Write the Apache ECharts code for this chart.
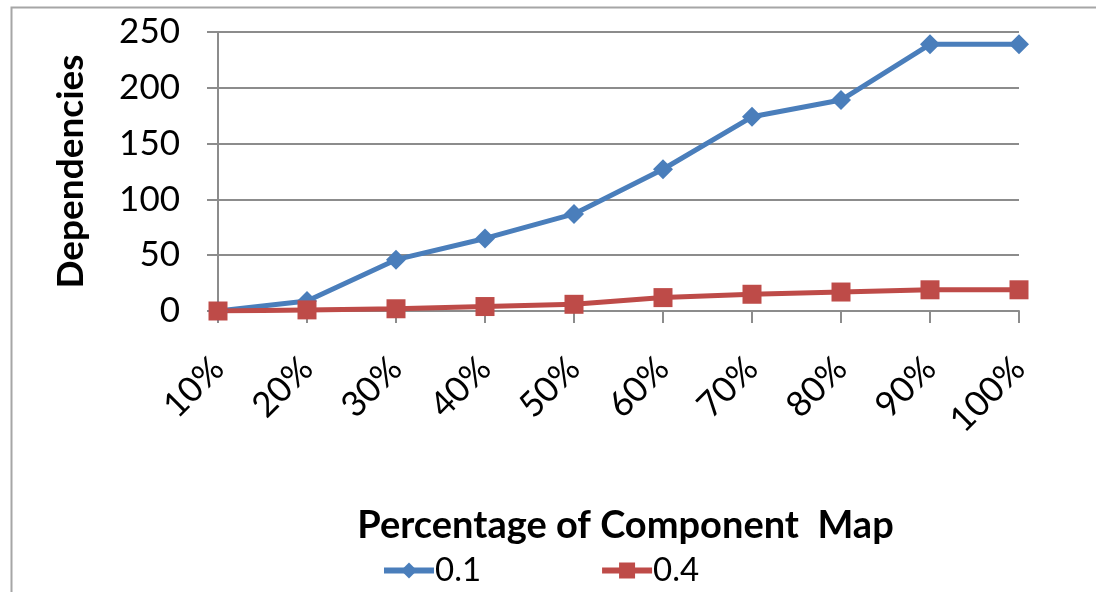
<!DOCTYPE html>
<html>
<head>
<meta charset="utf-8">
<script src="https://cdn.jsdelivr.net/npm/echarts@6/dist/echarts.min.js"></script>
<style>html,body{margin:0;padding:0;background:#fff}#c{width:1096px;height:592px}</style>
</head>
<body>
<div id="c"></div>
<script>
const categories = ['10%','20%','30%','40%','50%','60%','70%','80%','90%','100%'];
const series01 = [0, 9, 46, 65, 87, 127, 174, 189, 239, 239];
const series04 = [0, 1, 2, 4, 6, 12, 15, 17, 19, 19];
const seriesNames = ['0.1', '0.4'];
const yTicks = { min: 0, max: 250, interval: 50 };

const FONT = 'Lato, "Open Sans", sans-serif';
const chart = echarts.init(document.getElementById('c'), null, { renderer: 'canvas' });
chart.setOption({
  animation: false,
  backgroundColor: '#fff',
  graphic: [{
    type: 'rect', left: 9, top: 5, silent: true,
    shape: { width: 1200, height: 700 },
    style: { fill: 'none', stroke: '#a6a6a6', lineWidth: 2 }
  }],
  grid: { left: 218, right: 77, top: 32, bottom: 281, containLabel: false },
  legend: {
    data: seriesNames, bottom: 0, left: 376, itemGap: 118,
    itemWidth: 50, itemHeight: 20,
    lineStyle: { width: 6 },
    textStyle: { fontFamily: FONT, fontSize: 33, color: '#000', padding: [0, 0, 0, -4] }
  },
  xAxis: {
    type: 'category', data: categories, boundaryGap: false,
    name: 'Percentage of Component  Map', nameLocation: 'middle', nameGap: 196,
    nameTextStyle: { fontFamily: FONT, fontSize: 38, fontWeight: 'bold', color: '#000', padding: [0, 0, 0, 14] },
    axisLine: { lineStyle: { color: '#8c8c8c', width: 2 } },
    axisTick: { show: true, length: 12, alignWithLabel: true, lineStyle: { color: '#8c8c8c', width: 2 } },
    axisLabel: { rotate: 45, margin: 52, fontFamily: FONT, fontSize: 35, color: '#000' }
  },
  yAxis: {
    type: 'value', min: yTicks.min, max: yTicks.max, interval: yTicks.interval,
    name: 'Dependencies', nameLocation: 'middle', nameGap: 128, nameRotate: 90,
    nameTextStyle: { fontFamily: FONT, fontSize: 37, fontWeight: 'bold', color: '#000' },
    axisLine: { show: true, lineStyle: { color: '#8c8c8c', width: 2 } },
    axisTick: { show: true, length: 11, lineStyle: { color: '#8c8c8c', width: 2 } },
    axisLabel: { margin: 38, fontFamily: FONT, fontSize: 35, color: '#000' },
    splitLine: { show: true, lineStyle: { color: '#8c8c8c', width: 2 } }
  },
  series: [
    {
      name: seriesNames[0], type: 'line', data: series01,
      symbol: 'diamond', symbolSize: 20,
      lineStyle: { color: '#4a7ebb', width: 5 },
      itemStyle: { color: '#4a7ebb' }
    },
    {
      name: seriesNames[1], type: 'line', data: series04,
      symbol: 'rect', symbolSize: 19,
      lineStyle: { color: '#be4b48', width: 5 },
      itemStyle: { color: '#be4b48' }
    }
  ]
});
</script>
</body>
</html>
